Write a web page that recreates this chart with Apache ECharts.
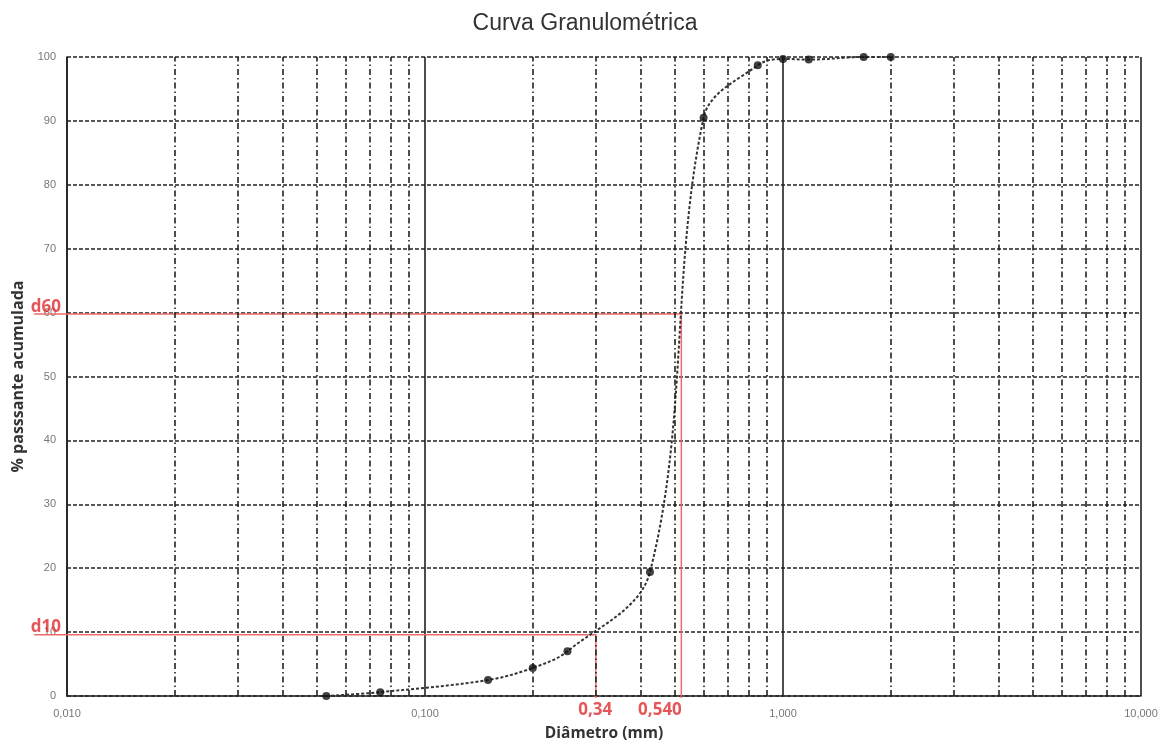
<!DOCTYPE html>
<html>
<head>
<meta charset="utf-8">
<script src="https://cdn.jsdelivr.net/npm/echarts@6/dist/echarts.min.js"></script>
<style>
html,body{margin:0;padding:0;background:#fff;}
#chart{width:1170px;height:745px;}
</style>
</head>
<body>
<div id="chart"></div>
<script>
// Sieve data (diameter in mm, % passing)
const diameters = [0.053, 0.075, 0.15, 0.2, 0.25, 0.425, 0.6, 0.85, 1.0, 1.18, 1.68, 2.0];
const passing = [0, 0.6, 2.5, 4.4, 7.0, 19.4, 90.5, 98.7, 99.7, 99.6, 100, 100];

// Reference lines as drawn (x start, d10/d60 positions and levels)
const refStartX = 0.0081;
const d10Pos = 0.30, d10Level = 9.6, d10Label = '0,34';
const d60Pos = 0.52, d60Level = 59.8, d60Label = '0,540';

const yTicks = [0, 10, 20, 30, 40, 50, 60, 70, 80, 90, 100];
const decades = [0.01, 0.1, 1];
const minorMultipliers = [2, 3, 4, 5, 6, 7, 8, 9];
const minorLines = [];
decades.forEach(d => minorMultipliers.forEach(m => minorLines.push(+(d * m).toPrecision(3))));

const chart = echarts.init(document.getElementById('chart'));
const pts = diameters.map((d, i) => [d, passing[i]]);
const fmtX = v => v.toFixed(3).replace('.', ',');

const option = {
  animation: false,
  backgroundColor: '#fff',
  title: {
    text: 'Curva Granulométrica',
    left: 'center',
    top: 7,
    textStyle: {fontFamily: 'Liberation Sans', fontSize: 23, fontWeight: 'normal', color: '#333'}
  },
  grid: {left: 67, right: 29, top: 57, bottom: 49, outerBoundsMode: 'none', containLabel: false},
  xAxis: {
    type: 'log',
    logBase: 10,
    min: 0.01,
    max: 10,
    interval: 1,
    name: 'Diâmetro (mm)',
    nameLocation: 'middle',
    nameGap: 30,
    nameTextStyle: {fontFamily: 'Open Sans', fontSize: 15.5, fontWeight: 'bold', color: '#333'},
    axisLine: {show: true, lineStyle: {color: '#222', width: 1.6}},
    axisTick: {show: false},
    axisLabel: {formatter: fmtX, fontFamily: 'Liberation Sans', fontSize: 11, color: '#777', margin: 12},
    splitLine: {show: true, lineStyle: {color: '#222', width: 1.6, type: 'solid'}},
    minorTick: {show: false},
    minorSplitLine: {show: false}
  },
  yAxis: {
    type: 'value',
    min: 0,
    max: 100,
    interval: 10,
    name: '% passsante acumulada',
    nameLocation: 'middle',
    nameGap: 39,
    nameTextStyle: {fontFamily: 'Open Sans', fontSize: 16, fontWeight: 'bold', color: '#333'},
    axisLine: {show: true, lineStyle: {color: '#222', width: 1.6}},
    axisTick: {show: false},
    axisLabel: {fontFamily: 'Liberation Sans', fontSize: 11, color: '#777', margin: 11,
      formatter: v => yTicks.includes(v) ? String(v) : ''},
    splitLine: {show: true, lineStyle: {color: '#222', width: 1.5, type: [4, 2]}}
  },
  series: [
    {
      name: 'minorGrid',
      type: 'line',
      data: [],
      silent: true,
      markLine: {
        silent: true,
        symbol: 'none',
        animation: false,
        label: {show: false},
        lineStyle: {color: '#222', width: 1.6, type: [6, 3, 1.5, 3]},
        data: minorLines.map(v => ({xAxis: v}))
      }
    },
    {
      name: 'refLines',
      type: 'custom',
      clip: false,
      silent: true,
      z: 3,
      data: [[d60Pos, d60Level], [d10Pos, d10Level]],
      renderItem: function (params, api) {
        const x = api.value(0), lvl = api.value(1);
        const p0 = api.coord([refStartX, lvl]);
        const p1 = api.coord([x, lvl]);
        const p2 = api.coord([x, 0]);
        p2[1] += 2;
        return {
          type: 'polyline',
          shape: {points: [p0, p1, p2]},
          style: {stroke: '#f06a6a', lineWidth: 1.5, fill: null}
        };
      }
    },
    {
      name: 'curve',
      type: 'line',
      smooth: 0.35,
      showSymbol: false,
      symbol: 'none',
      lineStyle: {color: '#333', width: 2, type: [3, 2]},
      data: pts,
      z: 4
    },
    {
      name: 'points',
      type: 'scatter',
      symbol: 'circle',
      symbolSize: 8,
      itemStyle: {color: '#111'},
      data: pts,
      z: 5
    },
    {
      name: 'labels',
      type: 'scatter',
      clip: false,
      silent: true,
      symbolSize: 1,
      itemStyle: {color: 'rgba(0,0,0,0)'},
      z: 6,
      label: {show: true, fontFamily: 'Open Sans', fontWeight: 'bold', fontSize: 17, color: '#e02a2e'},
      data: [
        {value: [refStartX, d60Level], label: {formatter: 'd60', position: [-3, 2], align: 'left', verticalAlign: 'bottom'}},
        {value: [refStartX, d10Level], label: {formatter: 'd10', position: [-3, 2], align: 'left', verticalAlign: 'bottom'}},
        {value: [d10Pos, 0], label: {formatter: d10Label, position: [0, 6], align: 'center', verticalAlign: 'top'}},
        {value: [d60Pos, 0], label: {formatter: d60Label, position: [1, 6], align: 'right', verticalAlign: 'top'}}
      ]
    }
  ]
};
chart.setOption(option);
</script>
</body>
</html>
